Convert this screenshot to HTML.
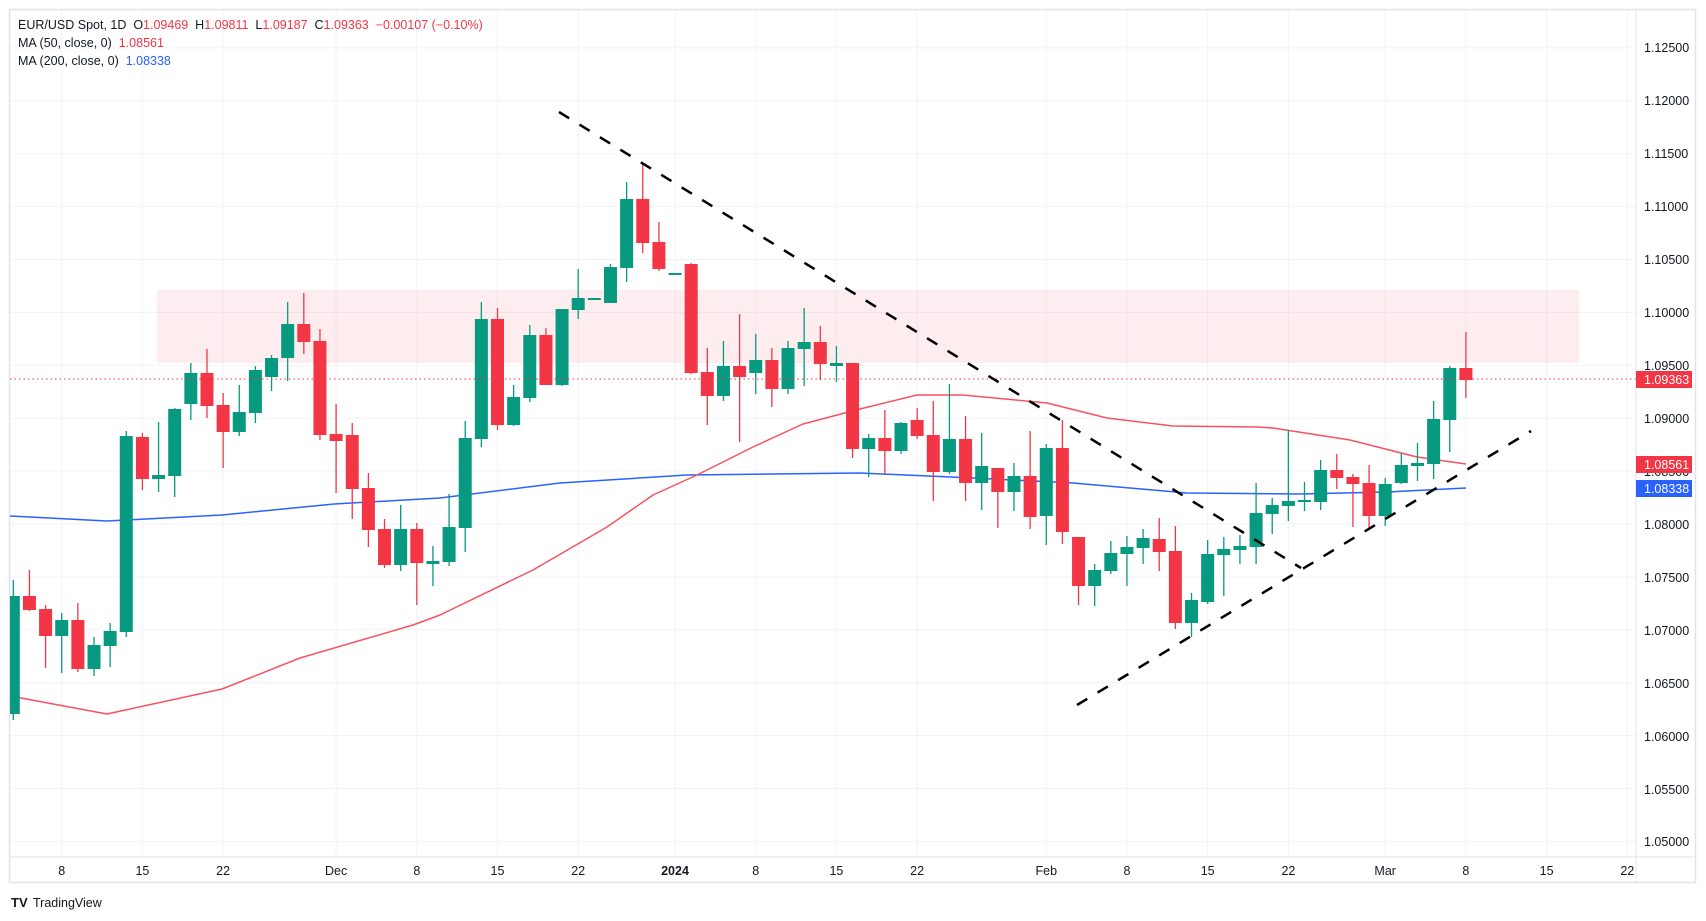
<!DOCTYPE html>
<html><head><meta charset="utf-8"><style>
html,body{margin:0;padding:0;background:#fff;}
svg{display:block;font-family:"Liberation Sans",sans-serif;}
.pre{white-space:pre;}
</style></head><body>
<svg id="c" width="1706" height="921" viewBox="0 0 1706 921" xmlns="http://www.w3.org/2000/svg">
<rect x="0" y="0" width="1706" height="921" fill="#fff"/>
<rect x="9.5" y="9.5" width="1686" height="873" fill="#fff" stroke="#e0e3eb" stroke-width="1.5"/>
<g id="grid" stroke="#f0f3fa" stroke-width="1"></g>
<rect x="157" y="290" width="1422" height="73" fill="#f23645" fill-opacity="0.09"/>
<g id="ma"></g>
<g id="candles"></g>
<line x1="10" y1="379" x2="1636" y2="379" stroke="#f23645" stroke-width="1" stroke-dasharray="1.5,3"/>
<line x1="559" y1="112" x2="1301" y2="568" stroke="#000" stroke-width="2.5" stroke-dasharray="12,12"/>
<line x1="1077" y1="705" x2="1531" y2="431" stroke="#000" stroke-width="2.5" stroke-dasharray="12,12"/>
<line x1="1636" y1="10" x2="1636" y2="882" stroke="#e0e3eb" stroke-width="1"/>
<line x1="10" y1="857" x2="1695" y2="857" stroke="#e0e3eb" stroke-width="1"/>
<g font-size="12.5" fill="#131722">
<text x="1644" y="52">1.12500</text>
<text x="1644" y="105">1.12000</text>
<text x="1644" y="158">1.11500</text>
<text x="1644" y="211">1.11000</text>
<text x="1644" y="264">1.10500</text>
<text x="1644" y="317">1.10000</text>
<text x="1644" y="370">1.09500</text>
<text x="1644" y="423">1.09000</text>
<text x="1644" y="476">1.08500</text>
<text x="1644" y="529">1.08000</text>
<text x="1644" y="582">1.07500</text>
<text x="1644" y="635">1.07000</text>
<text x="1644" y="688">1.06500</text>
<text x="1644" y="741">1.06000</text>
<text x="1644" y="794">1.05500</text>
<text x="1644" y="846">1.05000</text>
</g>
<rect x="1636" y="371" width="56" height="17" fill="#f23645"/>
<text x="1644" y="384" font-size="12.5" fill="#fff">1.09363</text>
<rect x="1636" y="456" width="56" height="17" fill="#f23645"/>
<text x="1644" y="469" font-size="12.5" fill="#fff">1.08561</text>
<rect x="1636" y="480" width="56" height="17" fill="#2962ff"/>
<text x="1644" y="493" font-size="12.5" fill="#fff">1.08338</text>
<g font-size="12.5" fill="#131722" text-anchor="middle">
<text x="61.7" y="875">8</text>
<text x="142.4" y="875">15</text>
<text x="223.1" y="875">22</text>
<text x="336.1" y="875">Dec</text>
<text x="416.8" y="875">8</text>
<text x="497.5" y="875">15</text>
<text x="578.2" y="875">22</text>
<text x="675" y="875" font-weight="bold">2024</text>
<text x="755.7" y="875">8</text>
<text x="836.4" y="875">15</text>
<text x="917.1" y="875">22</text>
<text x="1046.3" y="875">Feb</text>
<text x="1127" y="875">8</text>
<text x="1207.7" y="875">15</text>
<text x="1288.4" y="875">22</text>
<text x="1385.2" y="875">Mar</text>
<text x="1465.9" y="875">8</text>
<text x="1546.6" y="875">15</text>
<text x="1627.3" y="875">22</text>
</g>
<g font-size="12.5" fill="#131722">
<text class="pre" x="18" y="29">EUR/USD Spot, 1D  O<tspan fill="#f23645">1.09469</tspan>  H<tspan fill="#f23645">1.09811</tspan>  L<tspan fill="#f23645">1.09187</tspan>  C<tspan fill="#f23645">1.09363</tspan>  <tspan fill="#f23645">−0.00107 (−0.10%)</tspan></text>
<text class="pre" x="18" y="47">MA (50, close, 0)  <tspan fill="#f23645">1.08561</tspan></text>
<text class="pre" x="18" y="65">MA (200, close, 0)  <tspan fill="#2962ff">1.08338</tspan></text>
</g>
<text x="11" y="907" font-size="13" fill="#131722" font-weight="bold">TV</text>
<text x="33" y="907" font-size="12.5" fill="#131722">TradingView</text>
</svg>
<script>
var NS="http://www.w3.org/2000/svg";
function el(p,t,a){var e=document.createElementNS(NS,t);for(var k in a)e.setAttribute(k,a[k]);p.appendChild(e);return e;}
var g=document.getElementById('grid');
for(var k=0;k<16;k++){var y=47.9+k*52.9;el(g,'line',{x1:10,y1:y,x2:1636,y2:y});}
[3,8,13,20,25,30,35,41,46,51,56,64,69,74,79,85,90,95,100].forEach(function(i){var x=13.3+16.14*i;el(g,'line',{x1:x,y1:10,x2:x,y2:857});});
function X(i){return 13.3+16.14*i;}
var C=[[0,'g',596,714,580,720],[1,'r',596,610,570,611],[2,'r',609,636,605,668],[3,'g',620,636,613,673],[4,'r',620,669,603,672],[5,'g',645,669,637,676],[6,'g',631,646,623,667],[7,'g',436,632,431,637],[8,'r',437,479,433,490],[9,'g',475,479,422,492],[10,'g',409,476,408,497],[11,'g',373,404,363,420],[12,'r',373,406,349,418],[13,'r',405,432,393,468],[14,'g',412,432,385,436],[15,'g',370,413,366,423],[16,'g',358,377,355,391],[17,'g',324,358,302,381],[18,'r',324,342,293,354],[19,'r',341,435,329,440],[20,'r',434,441,404,493],[21,'r',435,489,423,519],[22,'r',488,530,473,547],[23,'r',529,565,519,568],[24,'g',529,565,505,571],[25,'r',529,563,523,605],[26,'g',561,564,546,586],
[27,'g',527,562,494,566],[28,'g',438,528,421,552],[29,'g',319,439,302,447],[30,'r',319,425,308,430],[31,'g',397,425,385,426],[32,'g',335,398,325,402],[33,'r',335,385,328,385],[34,'g',309,385,309,386],[35,'g',298,310,269,319],[36,'g',298,299,298,299],[37,'g',267,303,264,303],[38,'g',199,268,182,282],[39,'r',199,243,163,253],[40,'r',242,269,222,271],[41,'g',273,274,273,274],[42,'r',264,373,263,374],[43,'r',372,396,348,425],[44,'g',366,396,341,401],[45,'r',366,377,314,442],[46,'g',360,373,334,394],[47,'r',360,389,348,407],[48,'g',348,389,341,394],[49,'g',342,349,308,386],[50,'r',342,364,326,380],[51,'g',363,366,346,382],[52,'r',363,449,363,458],
[53,'g',438,449,434,477],[54,'r',438,451,410,474],[55,'g',423,451,422,454],[56,'r',420,436,408,439],[57,'r',435,472,401,501],[58,'g',439,472,384,474],[59,'r',439,483,416,501],[60,'g',466,483,433,510],[61,'r',468,492,468,528],[62,'g',476,492,463,511],[63,'r',476,517,431,529],[64,'g',448,516,444,545],[65,'r',448,532,420,544],[66,'r',537,586,537,605],[67,'g',570,586,564,606],[68,'g',553,571,541,574],[69,'g',547,554,536,586],[70,'g',538,548,529,564],[71,'r',539,552,518,571],[72,'r',551,623,526,629],[73,'g',600,623,593,637],[74,'g',554,602,540,604],[75,'g',549,555,537,596],[76,'g',546,550,535,564],[77,'g',513,547,483,564],[78,'g',505,514,498,534],
[79,'g',501,506,430,521],[80,'g',500,501,482,511],[81,'g',470,502,460,510],[82,'r',470,478,454,489],[83,'r',477,484,474,527],[84,'r',483,516,465,528],[85,'g',484,516,478,526],[86,'g',465,483,453,484],[87,'g',463,466,443,481],[88,'g',419,464,401,479],[89,'g',368,420,366,452],[90,'r',368,380,332,398]];
var cg=document.getElementById('candles');
C.forEach(function(c){var x=X(c[0]),col=c[1]=='g'?'#089981':'#f23645';
el(cg,'line',{x1:x,y1:c[4],x2:x,y2:c[5],stroke:col,'stroke-width':1.3});
var x0=Math.max(10,x-6.5),w=x+6.5-x0;
el(cg,'rect',{x:x0,y:c[2],width:w,height:Math.max(2,c[3]-c[2]),fill:col});});
var mg=document.getElementById('ma');
var blue=[[10,516],[107,521],[222,515],[334,504],[440,498],[560,483],[687,475],[860,473],[973,478],[1073,483],[1187,493],[1300,494],[1387,492],[1466,488]];
var red=[[10,696],[107,714],[222,689],[300,658],[413,625],[440,615],[533,570],[607,527],[653,495],[697,475],[753,447],[803,424],[860,409],[917,395],[963,395],[1047,403],[1107,418],[1173,426],[1257,427],[1273,428],[1350,440],[1417,457],[1466,464]];
function pl(p,col){el(mg,'polyline',{points:p.map(function(q){return q.join(',')}).join(' '),fill:'none',stroke:col,'stroke-width':1.5,'stroke-linejoin':'round'});}
pl(blue,'#2962ff');pl(red,'#f7525f');
</script>
</body></html>
